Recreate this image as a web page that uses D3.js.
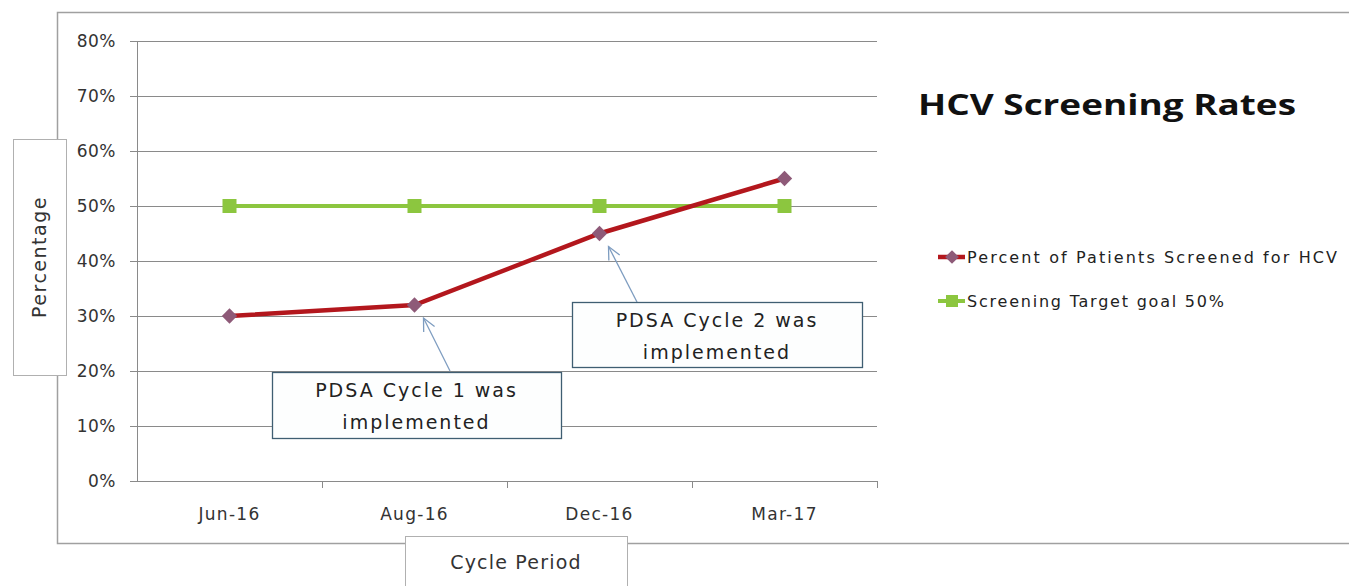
<!DOCTYPE html>
<html>
<head>
<meta charset="utf-8">
<script src="https://cdn.jsdelivr.net/npm/d3@7"></script>
<style>
  body { margin: 0; background: #fff; }
  text { font-family: "DejaVu Sans", "Liberation Sans", sans-serif; fill: #222; }
</style>
</head>
<body>
<script>
// chart data
var categories = ["Jun-16", "Aug-16", "Dec-16", "Mar-17"];
var screened = [0.30, 0.32, 0.45, 0.55];
var target = [0.50, 0.50, 0.50, 0.50];
var yTicks = [0, 0.1, 0.2, 0.3, 0.4, 0.5, 0.6, 0.7, 0.8];
var seriesNames = ["Percent of Patients Screened for HCV", "Screening Target goal 50%"];
var notes = ["PDSA Cycle 1 was|implemented", "PDSA Cycle 2 was|implemented"];

var W = 1349, H = 586;
var margin = {top: 41, left: 137},
    width = 740,
    height = 440;

var svg = d3.select("body").append("svg")
    .attr("width", W)
    .attr("height", H);

// outer chart frame
svg.append("rect")
    .attr("x", 57.5).attr("y", 12.5)
    .attr("width", 1320).attr("height", 531)
    .attr("fill", "#fff")
    .attr("stroke", "#a0a0a0")
    .attr("stroke-width", 1.5);

var g = svg.append("g")
    .attr("transform", "translate(" + margin.left + "," + margin.top + ")");

var x = d3.scaleBand()
    .domain(categories)
    .range([0, width]);

var y = d3.scaleLinear()
    .domain([0, 0.8])
    .range([height, 0]);

function cx(d) { return x(d) + x.bandwidth() / 2; }

// gridlines
g.selectAll(".grid")
    .data(yTicks.slice(1))
    .enter().append("line")
    .attr("x1", 0).attr("x2", width)
    .attr("y1", function(d) { return Math.round(y(d)) + 0.5; })
    .attr("y2", function(d) { return Math.round(y(d)) + 0.5; })
    .style("stroke", "#8a8a8a")
    .style("stroke-width", 1);

// y axis
var yAxis = d3.axisLeft(y)
    .tickValues(yTicks)
    .tickSize(7)
    .tickPadding(14)
    .tickFormat(d3.format(".0%"));

var ya = g.append("g").call(yAxis);
ya.select(".domain").attr("stroke", "#8a8a8a");
ya.selectAll(".tick line").attr("stroke", "#8a8a8a");
ya.selectAll("text")
    .style("font-size", "17px")
    .style("letter-spacing", "0.5px")
    .style("fill", "#333")
    .style("font-family", "'DejaVu Sans', sans-serif");

// x axis: labels at centres, ticks at band edges
var xa = g.append("g")
    .attr("transform", "translate(0," + height + ")")
    .call(d3.axisBottom(x).tickSize(0).tickPadding(27));
xa.select(".domain").attr("stroke", "#8a8a8a").attr("d", "M0,0.5H" + width);
xa.selectAll("text")
    .style("font-size", "17px")
    .style("letter-spacing", "1.3px")
    .style("fill", "#333")
    .style("font-family", "'DejaVu Sans', sans-serif");

g.selectAll(".xtick")
    .data(categories)
    .enter().append("line")
    .attr("x1", function(d) { return x(d) + x.bandwidth() + 0.5; })
    .attr("x2", function(d) { return x(d) + x.bandwidth() + 0.5; })
    .attr("y1", height).attr("y2", height + 7)
    .style("stroke", "#8a8a8a");

var line = d3.line()
    .x(function(d, i) { return cx(categories[i]); })
    .y(function(d) { return y(d); });

// target series
g.append("path")
    .datum(target)
    .attr("d", line)
    .attr("fill", "none")
    .attr("stroke", "#8cc63f")
    .attr("stroke-width", 4);

g.selectAll(".sq")
    .data(target)
    .enter().append("rect")
    .attr("x", function(d, i) { return cx(categories[i]) - 7; })
    .attr("y", function(d) { return y(d) - 7; })
    .attr("width", 14).attr("height", 14)
    .attr("fill", "#8cc63f");

// screened series
g.append("path")
    .datum(screened)
    .attr("d", line)
    .attr("fill", "none")
    .attr("stroke", "#b3171d")
    .attr("stroke-width", 4.5);

var diamond = d3.symbol().type(d3.symbolDiamond2).size(150);
g.selectAll(".dm")
    .data(screened)
    .enter().append("path")
    .attr("d", diamond)
    .attr("transform", function(d, i) { return "translate(" + cx(categories[i]) + "," + y(d) + ")"; })
    .attr("fill", "#8e5a78");

// annotations
var boxes = [
  {idx: 1, x: 272, y: 372, w: 289, h: 66, from: [450, 371]},
  {idx: 2, x: 572, y: 302, w: 290, h: 65, from: [637, 302]}
];

boxes.forEach(function(b, k) {
  var px = margin.left + cx(categories[b.idx]) + 9,
      py = margin.top + y(screened[b.idx]) + 13;
  var ang = Math.atan2(b.from[1] - py, b.from[0] - px);
  svg.append("line")
      .attr("x1", b.from[0]).attr("y1", b.from[1])
      .attr("x2", px).attr("y2", py)
      .style("stroke", "#7d9cc0").style("stroke-width", 1.3);
  var hl = 14, spread = 0.45;
  svg.append("path")
      .attr("d", "M" + (px + hl * Math.cos(ang - spread)) + "," + (py + hl * Math.sin(ang - spread)) +
                 "L" + px + "," + py +
                 "L" + (px + hl * Math.cos(ang + spread)) + "," + (py + hl * Math.sin(ang + spread)))
      .attr("fill", "none")
      .style("stroke", "#7d9cc0").style("stroke-width", 1.3);

  svg.append("rect")
      .attr("x", b.x + 0.5).attr("y", b.y + 0.5)
      .attr("width", b.w).attr("height", b.h)
      .attr("fill", "#fdfefe")
      .attr("stroke", "#3f5e72")
      .attr("stroke-width", 1.3);
  notes[k].split("|").forEach(function(t, j) {
    svg.append("text")
        .attr("x", b.x + b.w / 2)
        .attr("y", b.y + 25 + j * 32)
        .attr("text-anchor", "middle")
        .style("font-size", "19px")
        .style("letter-spacing", "2px")
        .style("fill", "#222")
        .text(t);
  });
});

// axis title boxes
svg.append("rect")
    .attr("x", 13.5).attr("y", 139.5)
    .attr("width", 53).attr("height", 236)
    .attr("fill", "#fff").attr("stroke", "#b0b0b0");
svg.append("text")
    .attr("transform", "translate(46,257) rotate(-90)")
    .attr("text-anchor", "middle")
    .style("font-size", "19px")
    .style("letter-spacing", "1.5px")
    .style("fill", "#333")
    .text("Percentage");

svg.append("rect")
    .attr("x", 405.5).attr("y", 536.5)
    .attr("width", 222).attr("height", 60)
    .attr("fill", "#fff").attr("stroke", "#b0b0b0");
svg.append("text")
    .attr("x", 516).attr("y", 569)
    .attr("text-anchor", "middle")
    .style("font-size", "19px")
    .style("letter-spacing", "1.2px")
    .style("fill", "#333")
    .text("Cycle Period");

// title
svg.append("text")
    .attr("x", 918).attr("y", 115)
    .attr("textLength", 378)
    .attr("lengthAdjust", "spacingAndGlyphs")
    .style("font-family", "'Open Sans', 'DejaVu Sans', sans-serif")
    .style("font-weight", "bold")
    .style("font-size", "29px")
    .style("fill", "#111")
    .text("HCV Screening Rates");

// legend
var legend = svg.append("g");
var ly = [257, 301];
legend.append("line")
    .attr("x1", 938).attr("x2", 965).attr("y1", ly[0]).attr("y2", ly[0])
    .style("stroke", "#b3171d").style("stroke-width", 4.5);
legend.append("path")
    .attr("d", d3.symbol().type(d3.symbolDiamond2).size(120))
    .attr("transform", "translate(952," + ly[0] + ")")
    .attr("fill", "#8e5a78");
legend.append("line")
    .attr("x1", 938).attr("x2", 965).attr("y1", ly[1]).attr("y2", ly[1])
    .style("stroke", "#8cc63f").style("stroke-width", 4);
legend.append("rect")
    .attr("x", 946).attr("y", ly[1] - 6).attr("width", 12).attr("height", 12)
    .attr("fill", "#8cc63f");

var lw = [370, 257];
seriesNames.forEach(function(n, i) {
  legend.append("text")
      .attr("x", 967).attr("y", ly[i] + 6)
      .attr("textLength", lw[i])
      .attr("lengthAdjust", "spacing")
      .style("font-size", "16px")
      .style("fill", "#222")
      .text(n);
});
</script>
</body>
</html>
